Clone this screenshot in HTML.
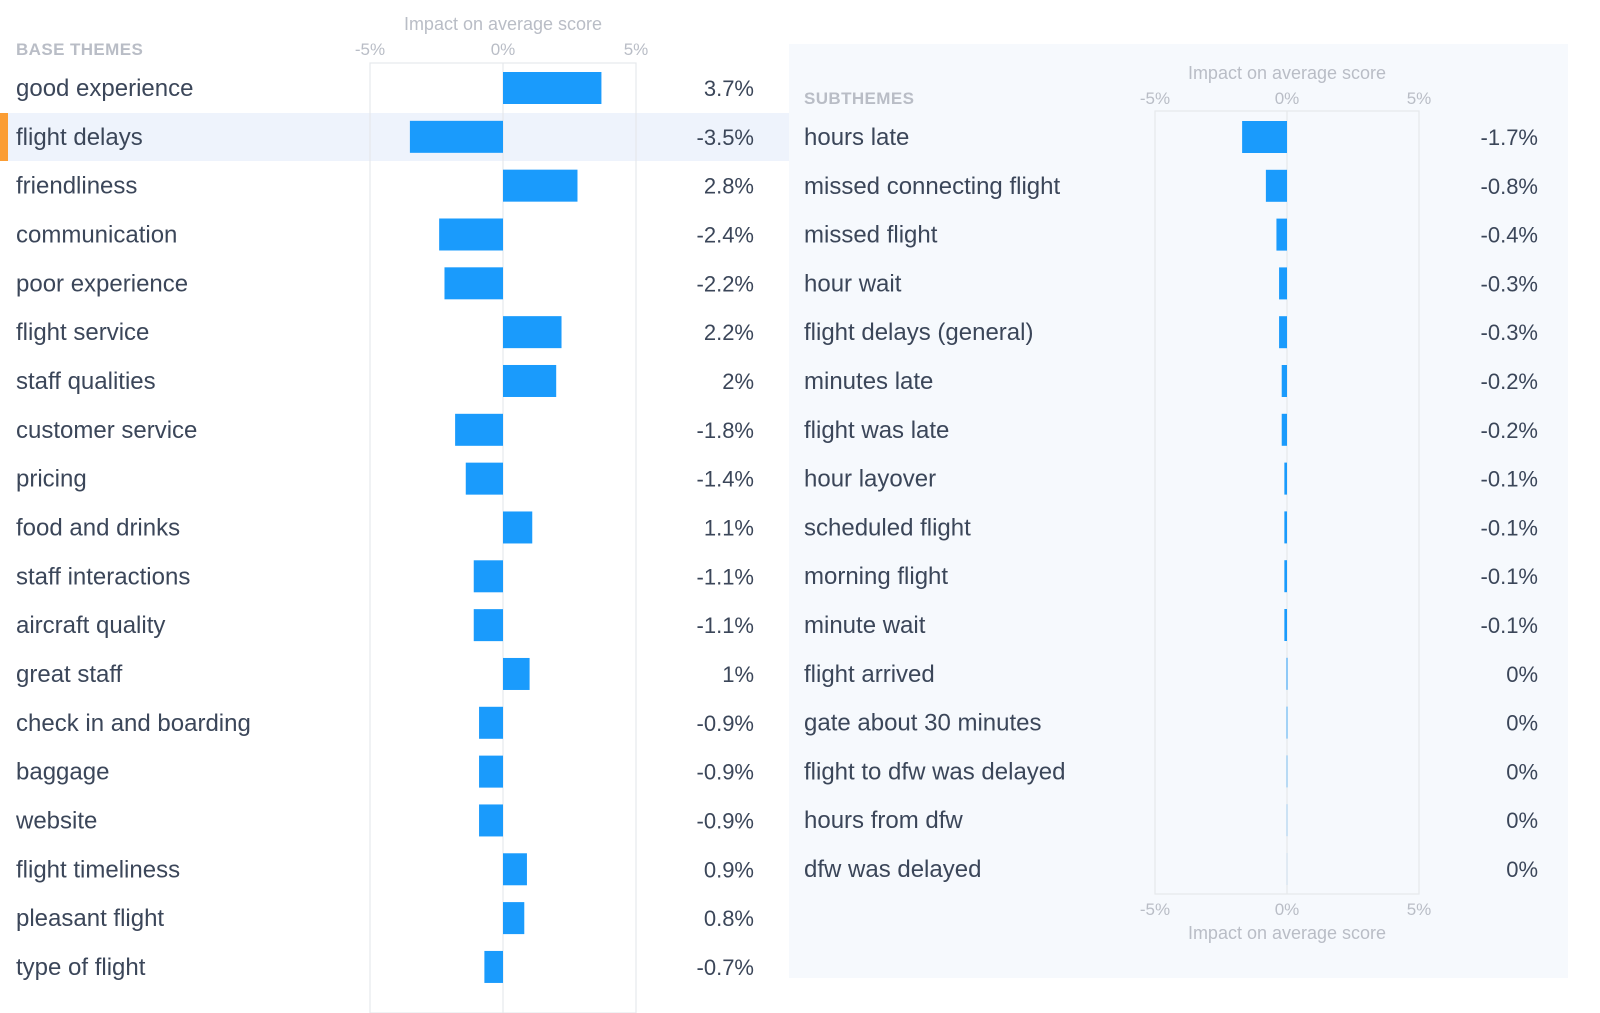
<!DOCTYPE html>
<html><head><meta charset="utf-8"><style>
html,body{margin:0;padding:0;background:#fff;}
svg{display:block;font-family:"Liberation Sans","DejaVu Sans",sans-serif;}
</style></head><body>
<svg id="c" width="1600" height="1013" viewBox="0 0 1600 1013" xmlns="http://www.w3.org/2000/svg">
<rect x="789" y="44" width="779" height="934" fill="#f6f9fd"/>
<rect x="0" y="113" width="789" height="48" fill="#eef3fc"/>
<rect x="0" y="113" width="8" height="48" fill="#fb9d34"/>
<g id="g"></g>
</svg>
<script>
const baseCats=["good experience","flight delays","friendliness","communication","poor experience","flight service","staff qualities","customer service","pricing","food and drinks","staff interactions","aircraft quality","great staff","check in and boarding","baggage","website","flight timeliness","pleasant flight","type of flight"];
const baseVals=[3.7,-3.5,2.8,-2.4,-2.2,2.2,2,-1.8,-1.4,1.1,-1.1,-1.1,1,-0.9,-0.9,-0.9,0.9,0.8,-0.7];
const baseLabels=["3.7%","-3.5%","2.8%","-2.4%","-2.2%","2.2%","2%","-1.8%","-1.4%","1.1%","-1.1%","-1.1%","1%","-0.9%","-0.9%","-0.9%","0.9%","0.8%","-0.7%"];
const subCats=["hours late","missed connecting flight","missed flight","hour wait","flight delays (general)","minutes late","flight was late","hour layover","scheduled flight","morning flight","minute wait","flight arrived","gate about 30 minutes","flight to dfw was delayed","hours from dfw","dfw was delayed"];
const subVals=[-1.7,-0.8,-0.4,-0.3,-0.3,-0.2,-0.2,-0.1,-0.1,-0.1,-0.1,0,0,0,0,0];
const subLabels=["-1.7%","-0.8%","-0.4%","-0.3%","-0.3%","-0.2%","-0.2%","-0.1%","-0.1%","-0.1%","-0.1%","0%","0%","0%","0%","0%"];
const ticks=[-5,0,5];
const tickLabels=["-5%","0%","5%"];
const NS="http://www.w3.org/2000/svg";
const g=document.getElementById('g');
function el(t,a,txt){const e=document.createElementNS(NS,t);for(const k in a)e.setAttribute(k,a[k]);if(txt!==undefined)e.textContent=txt;g.appendChild(e);return e;}
function panel(o){
  const x=v=>o.x0+v*o.ppu;
  const y=i=>o.y0+i*o.step;
  const b=el('rect',{x:x(-5),y:o.boxTop,width:x(5)-x(-5),height:o.boxBot-o.boxTop,fill:'none',stroke:'#e6e8ec','stroke-width':1.2});
  
  
  const z=el('line',{x1:x(0),x2:x(0),y1:o.boxTop,y2:o.boxBot,stroke:'#e6e8ec','stroke-width':1.2});
  
  
  const h=el('text',{x:16+o.lx,y:o.headY,'font-size':17,fill:'#b9bdc6','font-weight':'bold','letter-spacing':'0.4'},o.head);
  
  
  o.axisRows.forEach(r=>{
    const t=el('text',{x:x(0),y:r.title,'font-size':18,fill:'#b9bdc6','text-anchor':'middle'},'Impact on average score');
    
    
    ticks.forEach((v,i)=>{
      const tk=el('text',{x:x(v),y:r.ticks,'font-size':17,fill:'#b9bdc6','text-anchor':'middle'},tickLabels[i]);
      
      
    });
  });
  o.cats.forEach((c,i)=>{
    const cy=y(i);
    const l=el('text',{x:o.lx+16,y:cy+8,'font-size':24,fill:'#3b4659'},c);
    
    
    const v=o.vals[i];
    let x1=Math.min(x(0),x(v)),w=Math.abs(x(v)-x(0)),op=1;
    if(w<2){w=2;x1=x(0)-1;op=Math.max(0.05,0.45-(i-11)*0.1);}
    const r=el('rect',{x:x1,y:cy-16,width:w,height:32,fill:'#1a9bfc',opacity:op});
    
    
    const vt=el('text',{x:o.vx,y:cy+8,'font-size':22,fill:'#3b4659','text-anchor':'end'},o.labels[i]);
    
    
  });
}
panel({p:'base',x0:503,ppu:26.6,y0:88,step:48.83,boxTop:63,boxBot:1013,lx:0,vx:754,headY:55,head:'BASE THEMES',cats:baseCats,vals:baseVals,labels:baseLabels,axisRows:[{title:30,ticks:55}]});
panel({p:'sub',x0:1287,ppu:26.4,y0:137,step:48.8,boxTop:111,boxBot:894,lx:788,vx:1538,headY:104,head:'SUBTHEMES',cats:subCats,vals:subVals,labels:subLabels,axisRows:[{title:79,ticks:104},{title:939,ticks:915}]});
</script>
</body></html>
